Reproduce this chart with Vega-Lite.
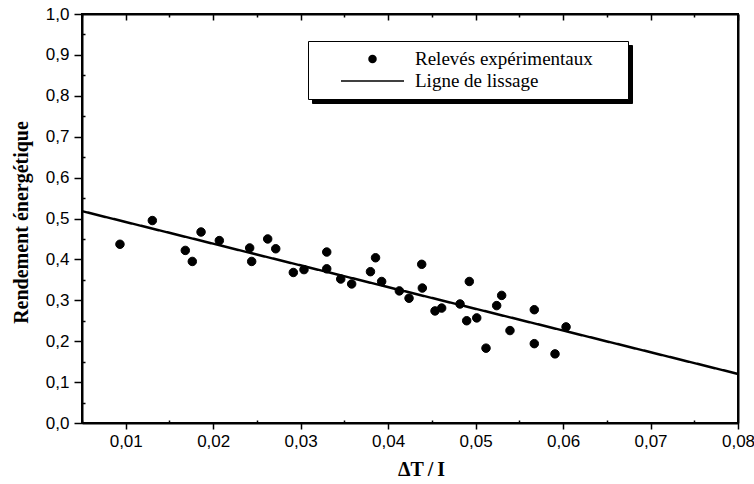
{
  "$schema": "https://vega.github.io/schema/vega-lite/v6.json",
  "width": 656,
  "height": 409,
  "autosize": "none",
  "padding": {"left": 82, "top": 14, "right": 16, "bottom": 61},
  "background": "white",
  "config": {
    "view": {"stroke": "black", "strokeWidth": 2},
    "axis": {
      "grid": false,
      "domainColor": "black",
      "domainWidth": 2,
      "tickColor": "black",
      "tickWidth": 1.5,
      "labelFont": "Liberation Sans Narrow, Arial Narrow, Liberation Sans",
      "labelFontSize": 17,
      "labelColor": "black",
      "labelFlush": false,
      "labelOverlap": false,
      "titleFont": "Liberation Serif",
      "titleFontWeight": "bold",
      "titleColor": "black"
    }
  },
  "datasets": {
    "releves": [
      {"dT_I": 0.00934, "rendement": 0.437, "type": "Relevés expérimentaux"},
      {"dT_I": 0.01304, "rendement": 0.495, "type": "Relevés expérimentaux"},
      {"dT_I": 0.01681, "rendement": 0.422, "type": "Relevés expérimentaux"},
      {"dT_I": 0.01761, "rendement": 0.395, "type": "Relevés expérimentaux"},
      {"dT_I": 0.01861, "rendement": 0.467, "type": "Relevés expérimentaux"},
      {"dT_I": 0.0207, "rendement": 0.446, "type": "Relevés expérimentaux"},
      {"dT_I": 0.02417, "rendement": 0.428, "type": "Relevés expérimentaux"},
      {"dT_I": 0.0244, "rendement": 0.395, "type": "Relevés expérimentaux"},
      {"dT_I": 0.02623, "rendement": 0.45, "type": "Relevés expérimentaux"},
      {"dT_I": 0.02715, "rendement": 0.426, "type": "Relevés expérimentaux"},
      {"dT_I": 0.02916, "rendement": 0.368, "type": "Relevés expérimentaux"},
      {"dT_I": 0.03038, "rendement": 0.375, "type": "Relevés expérimentaux"},
      {"dT_I": 0.03298, "rendement": 0.418, "type": "Relevés expérimentaux"},
      {"dT_I": 0.03298, "rendement": 0.377, "type": "Relevés expérimentaux"},
      {"dT_I": 0.03458, "rendement": 0.352, "type": "Relevés expérimentaux"},
      {"dT_I": 0.03583, "rendement": 0.34, "type": "Relevés expérimentaux"},
      {"dT_I": 0.03798, "rendement": 0.37, "type": "Relevés expérimentaux"},
      {"dT_I": 0.03856, "rendement": 0.404, "type": "Relevés expérimentaux"},
      {"dT_I": 0.03926, "rendement": 0.346, "type": "Relevés expérimentaux"},
      {"dT_I": 0.04128, "rendement": 0.323, "type": "Relevés expérimentaux"},
      {"dT_I": 0.04239, "rendement": 0.305, "type": "Relevés expérimentaux"},
      {"dT_I": 0.04391, "rendement": 0.33, "type": "Relevés expérimentaux"},
      {"dT_I": 0.04384, "rendement": 0.388, "type": "Relevés expérimentaux"},
      {"dT_I": 0.04536, "rendement": 0.274, "type": "Relevés expérimentaux"},
      {"dT_I": 0.04612, "rendement": 0.281, "type": "Relevés expérimentaux"},
      {"dT_I": 0.04822, "rendement": 0.291, "type": "Relevés expérimentaux"},
      {"dT_I": 0.04898, "rendement": 0.25, "type": "Relevés expérimentaux"},
      {"dT_I": 0.04928, "rendement": 0.346, "type": "Relevés expérimentaux"},
      {"dT_I": 0.05013, "rendement": 0.257, "type": "Relevés expérimentaux"},
      {"dT_I": 0.05119, "rendement": 0.183, "type": "Relevés expérimentaux"},
      {"dT_I": 0.05241, "rendement": 0.287, "type": "Relevés expérimentaux"},
      {"dT_I": 0.05298, "rendement": 0.312, "type": "Relevés expérimentaux"},
      {"dT_I": 0.05393, "rendement": 0.226, "type": "Relevés expérimentaux"},
      {"dT_I": 0.05671, "rendement": 0.277, "type": "Relevés expérimentaux"},
      {"dT_I": 0.05671, "rendement": 0.194, "type": "Relevés expérimentaux"},
      {"dT_I": 0.05908, "rendement": 0.169, "type": "Relevés expérimentaux"},
      {"dT_I": 0.06034, "rendement": 0.235, "type": "Relevés expérimentaux"}
    ],
    "lissage": [
      {"dT_I": 0.005, "rendement": 0.518, "type": "Ligne de lissage"},
      {"dT_I": 0.08, "rendement": 0.12, "type": "Ligne de lissage"}
    ]
  },
  "layer": [
    {
      "data": {"name": "lissage"},
      "mark": {"type": "line", "color": "black", "strokeWidth": 2.5, "clip": true},
      "encoding": {
        "x": {
          "field": "dT_I", "type": "quantitative",
          "scale": {"domain": [0.005, 0.08], "nice": false, "zero": false},
          "axis": {
            "orient": "top", "title": null, "labels": false, "domain": true,
            "values": [0.005, 0.01, 0.015, 0.02, 0.025, 0.03, 0.035, 0.04, 0.045, 0.05, 0.055, 0.06, 0.065, 0.07, 0.075, 0.08],
            "tickSize": {"condition": {"test": "round(datum.value*1000) % 10 == 0", "value": -6}, "value": -3}
          }
        },
        "y": {
          "field": "rendement", "type": "quantitative",
          "scale": {"domain": [0, 1], "nice": false},
          "axis": {"orient": "right", "title": null, "labels": false, "ticks": false, "domain": true}
        },
        "strokeDash": {
          "field": "type", "type": "nominal",
          "scale": {"domain": ["Ligne de lissage", "Relevés expérimentaux"], "range": [[1, 0], [1, 0]]},
          "legend": {
            "orient": "none", "legendX": 230, "legendY": 31, "title": null,
            "fillColor": "black", "strokeColor": "black", "padding": 7,
            "clipHeight": 22, "rowPadding": 0, "symbolSize": 3969, "symbolStrokeWidth": 2,
            "symbolOffset": 25, "labelOffset": 10, "labelLimit": 400,
            "labelFont": "Liberation Serif", "labelFontSize": 19, "labelColor": "black",
            "symbolStrokeColor": "black",
            "labelExpr": "datum.label + '\u2800\u2800'",
            "zindex": 1
          }
        }
      }
    },
    {
      "data": {"name": "releves"},
      "mark": {"type": "point", "filled": false, "color": "black", "fill": "black", "fillOpacity": 1, "strokeWidth": 1, "opacity": 1},
      "encoding": {
        "x": {
          "field": "dT_I", "type": "quantitative",
          "scale": {"domain": [0.005, 0.08], "nice": false, "zero": false},
          "axis": {
            "orient": "bottom", "title": "ΔT\u2009/\u2009I", "titleFontSize": 20,
            "titleX": 339, "titleY": 46, "titleBaseline": "middle",
            "values": [0.005, 0.01, 0.015, 0.02, 0.025, 0.03, 0.035, 0.04, 0.045, 0.05, 0.055, 0.06, 0.065, 0.07, 0.075, 0.08],
            "labelExpr": "round(datum.value*1000) % 10 == 0 ? replace(format(datum.value, '.2f'), '.', ',') : ''",
            "tickSize": {"condition": {"test": "round(datum.value*1000) % 10 == 0", "value": 6}, "value": -3},
            "labelPadding": 4
          }
        },
        "y": {
          "field": "rendement", "type": "quantitative",
          "scale": {"domain": [0, 1], "nice": false},
          "axis": {
            "orient": "left", "title": "Rendement énergétique", "titleFontSize": 20,
            "titleX": -61, "titleY": 208, "titleAngle": -90, "titleBaseline": "middle", "titleAlign": "center",
            "values": [0, 0.05, 0.1, 0.15, 0.2, 0.25, 0.3, 0.35, 0.4, 0.45, 0.5, 0.55, 0.6, 0.65, 0.7, 0.75, 0.8, 0.85, 0.9, 0.95, 1],
            "labelExpr": "round(datum.value*100) % 10 == 0 ? replace(format(datum.value, '.1f'), '.', ',') : ''",
            "tickSize": {"condition": {"test": "round(datum.value*100) % 10 == 0", "value": 8}, "value": -3},
            "labelPadding": 5
          }
        },
        "shape": {
          "field": "type", "type": "nominal",
          "scale": {"domain": ["Relevés expérimentaux", "Ligne de lissage"], "range": ["circle", "M-1,-0.02L1,-0.02L1,0.02L-1,0.02Z"]},
          "legend": {
            "orient": "none", "legendX": 226, "legendY": 27, "title": null,
            "fillColor": "white", "strokeColor": "black", "padding": 7,
            "clipHeight": 22, "rowPadding": 0, "symbolStrokeWidth": 2,
            "symbolOffset": 25, "labelOffset": 10, "labelLimit": 400,
            "labelFont": "Liberation Serif", "labelFontSize": 19, "labelColor": "black",
            "symbolStrokeColor": "black", "symbolFillColor": "black",
            "labelExpr": "datum.label + '\u2800\u2800'",
            "zindex": 2
          }
        },
        "size": {
          "field": "type", "type": "nominal",
          "scale": {"domain": ["Relevés expérimentaux", "Ligne de lissage"], "range": [72, 3969]},
          "legend": {
            "orient": "none", "legendX": 226, "legendY": 27, "title": null,
            "fillColor": "white", "strokeColor": "black", "padding": 7,
            "clipHeight": 22, "rowPadding": 0, "symbolStrokeWidth": 2,
            "symbolOffset": 25, "labelOffset": 10, "labelLimit": 400,
            "labelFont": "Liberation Serif", "labelFontSize": 19, "labelColor": "black",
            "symbolStrokeColor": "black", "symbolFillColor": "black",
            "labelExpr": "datum.label + '\u2800\u2800'",
            "zindex": 2
          }
        }
      }
    }
  ],
  "resolve": {"axis": {"x": "independent", "y": "independent"}}
}
